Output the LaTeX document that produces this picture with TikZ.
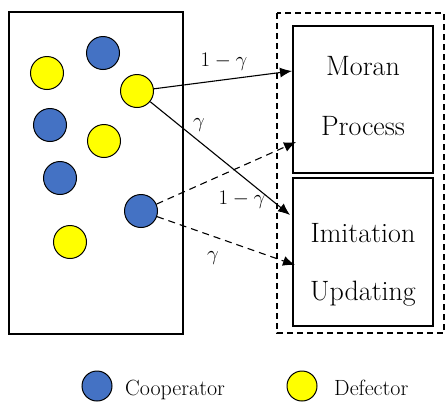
\documentclass[tikz,border=0pt]{standalone}
\usetikzlibrary{arrows.meta}
\definecolor{coopblue}{RGB}{68,114,196}
\definecolor{defyellow}{RGB}{255,255,0}

\begin{document}
\begin{tikzpicture}[x=1pt, y=-1pt,
		coop/.style={circle, draw, line width=1pt, fill=coopblue, minimum size=33pt, inner sep=0pt},
		defe/.style={circle, draw, line width=1pt, fill=defyellow, minimum size=33pt, inner sep=0pt},
		frame/.style={draw, line width=1.1pt, inner sep=0pt},
		boxtxt/.style={font=\fontsize{28}{34}\selectfont, anchor=base, inner sep=0pt},
		prob/.style={font=\fontsize{21}{25}\selectfont, inner sep=0pt},
		flow/.style={-{Latex[length=12pt, width=10pt]}, line width=1.1pt},
		dflow/.style={flow, dash pattern=on 7pt off 5pt}]
		
		\useasboundingbox (0,0) rectangle (446,402);
		
		% Poblacion
		\node[frame, minimum width=174pt, minimum height=322pt] (pop) at (96,173) {};
		
		\node[coop] (c1) at (103,53) {};
		\node[defe] (d1) at (47,73) {};
		\node[defe] (d2) at (137,91) {};
		\node[coop] (c2) at (50,125) {};
		\node[defe] (d3) at (104,141) {};
		\node[coop] (c3) at (60,178) {};
		\node[coop] (c4) at (141,211) {};
		\node[defe] (d4) at (70,242) {};
		
		% Reglas de actualizacion
		\draw[line width=1.2pt, dash pattern=on 6pt off 4pt] (277,13) rectangle (444,333);
		\node[frame, minimum width=140pt, minimum height=147pt] (moran) at (363,99.5) {};
		\node[frame, minimum width=140pt, minimum height=148pt] (imit) at (363,252) {};
		
		\node[boxtxt] (t1) at (363,75) {Moran};
		\node[boxtxt] (t2) at (363,135) {Process};
		\node[boxtxt] (t3) at (363,242) {Imitation};
		\node[boxtxt] (t4) at (363,300) {Updating};
		
		\coordinate (m1) at (292,71);
		\coordinate (m2) at (296,142);
		\coordinate (i1) at (290,215);
		\coordinate (i2) at (295,265);
		
		% Flechas del defector
		\draw[flow] (d2) -- (m1);
		\draw[flow] (d2) -- (i1);
		\node[prob] (p1) at (224,62) {$1-\gamma$};
		\node[prob] (p2) at (199,125) {$\gamma$};
		
		% Flechas del cooperador
		\draw[dflow] (c4) -- (m2);
		\draw[dflow] (c4) -- (i2);
		\node[prob] (p3) at (242,200) {$1-\gamma$};
		\node[prob] (p4) at (213,258) {$\gamma$};
		
		% Leyenda
		\node[coop, minimum size=30pt] (lc) at (97,386) {};
		\node[font=\fontsize{22}{27}\selectfont, anchor=base west, inner sep=0pt] (lct) at (125,395) {Cooperator};
		\node[defe, minimum size=30pt] (ld) at (302,386) {};
		\node[font=\fontsize{22}{27}\selectfont, anchor=base west, inner sep=0pt] (ldt) at (334,395) {Defector};
		
	\end{tikzpicture}
\end{document}
